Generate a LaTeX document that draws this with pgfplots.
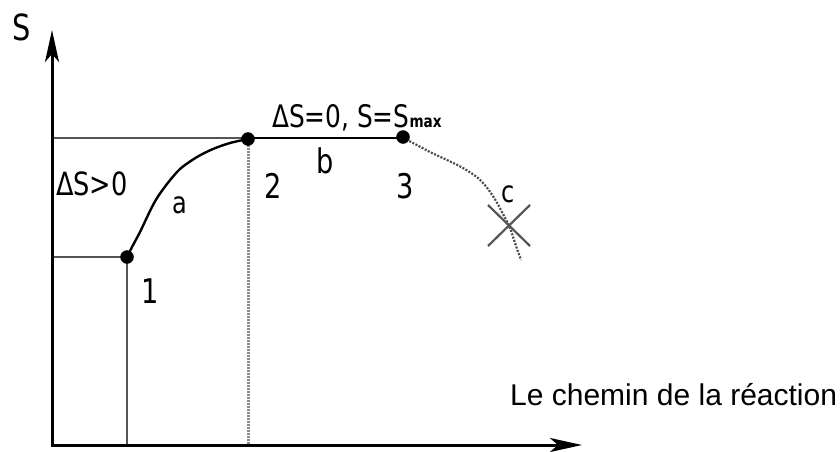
\documentclass[border=0pt]{standalone}
\usepackage{pgfplots}
\pgfplotsset{compat=1.18}
\usetikzlibrary{arrows.meta}
\usepackage{fontspec}
\setmainfont{Liberation Sans}
\newfontfamily\pix[FakeStretch=0.8]{DejaVu Sans}
\definecolor{lgray}{HTML}{555555}
\definecolor{dgray}{HTML}{8A8A8A}
\begin{document}
\begin{tikzpicture}
\begin{axis}[hide axis, scale only axis, width=840pt, height=451pt,
  xmin=0, xmax=840, ymin=0, ymax=451, y dir=reverse, clip=false]
\addplot[draw=none, forget plot] coordinates {(0,0) (840,451)};
% guide lines
\addplot[lgray, line width=2.4pt] coordinates {(52,138) (248,138)};
\addplot[lgray, line width=2.4pt] coordinates {(52,257) (127,257)};
\addplot[lgray, line width=2.4pt] coordinates {(127,257) (127,445)};
\addplot[dgray, line width=3pt, dash pattern=on 2pt off 1pt] coordinates {(248,139) (248,445)};
% axes
\addplot[black, line width=3pt, -{Stealth[length=32pt,width=14pt,inset=8pt]}] coordinates {(52,446.5) (52,30)};
\addplot[black, line width=3pt, -{Stealth[length=32pt,width=14pt,inset=8pt]}] coordinates {(50.5,445) (582,445)};
% curve a
\addplot[black, line width=2.4pt, smooth, tension=0.5] coordinates {
(127,257) (132,247) (140,232) (150,211) (157,198) (167,184) (180,169) (197,157) (213,149) (230,143) (248,139)};
% segment b
\addplot[black, line width=2.8pt] coordinates {(248,138) (403,138)};
% curve c
\addplot[black!70, line width=2.2pt, dash pattern=on 2pt off 1.5pt, smooth, tension=0.5] coordinates {
(403,138) (413,143) (430,152) (447,160) (463,168) (478,178) (488,189) (496,201) (503,214) (510,228) (515,243) (521,260)};
% cross
\addplot[lgray, line width=2.2pt] coordinates {(488,205) (530,246)};
\addplot[lgray, line width=2.2pt] coordinates {(530,205) (488,246)};
% points
\addplot[only marks, mark=*, mark size=6.5pt, black] coordinates {(127,257) (248,139) (403,137)};
% labels
\node[anchor=base west, inner sep=0, font=\pix\fontsize{36}{36}\selectfont] at (axis cs:12,41) {S};
\node[anchor=base west, inner sep=0, font=\pix\fontsize{32}{32}\selectfont] at (axis cs:56,195) {ΔS>0};
\node[anchor=base west, inner sep=0, font=\pix\fontsize{30}{30}\selectfont] at (axis cs:172,213) {a};
\node[anchor=base west, inner sep=0, font=\pix\fontsize{34}{34}\selectfont] at (axis cs:141,303) {1};
\node[anchor=base west, inner sep=0, font=\pix\fontsize{34}{34}\selectfont] at (axis cs:264,198) {2};
\node[anchor=base west, inner sep=0, font=\pix\fontsize{34}{34}\selectfont] at (axis cs:396,198) {3};
\node[anchor=base west, inner sep=0, font=\pix\fontsize{34}{34}\selectfont] at (axis cs:316,173) {b};
\node[anchor=base west, inner sep=0, font=\pix\fontsize{30}{30}\selectfont] at (axis cs:501,202) {c};
\node[anchor=base west, inner sep=0, font=\pix\fontsize{31}{31}\selectfont] at (axis cs:272,127) {ΔS=0, S=S{\fontsize{17}{17}\bfseries max}};
\node[anchor=base west, inner sep=0, font=\fontsize{30}{30}\selectfont] at (axis cs:510,405) {Le chemin de la réaction};
\end{axis}
\end{tikzpicture}
\end{document}
